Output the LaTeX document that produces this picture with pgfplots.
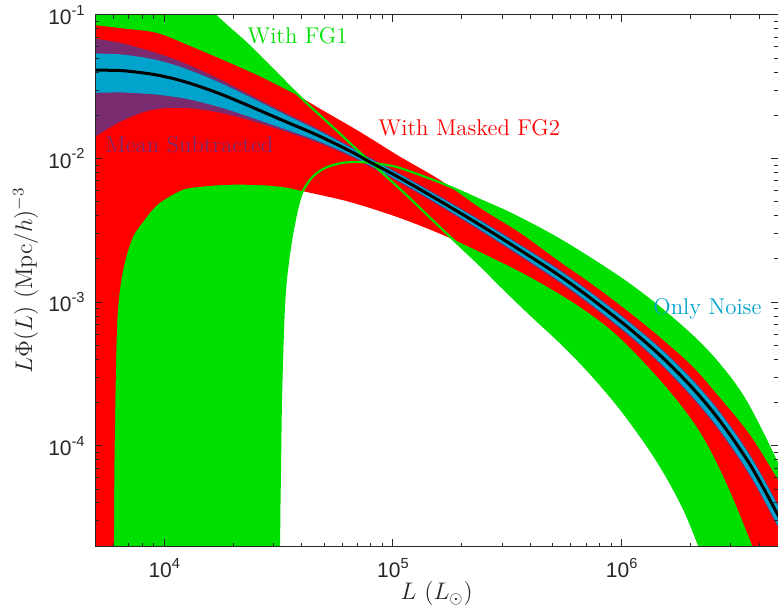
\documentclass[border=0pt]{standalone}
\usepackage{fontspec}
\usepackage{pgfplots}
\usepackage{pgfplotstable}
\pgfplotsset{compat=1.18}
\usepgfplotslibrary{fillbetween}
\newfontfamily\helv{Liberation Sans}

\definecolor{fggreen}{RGB}{0,224,0}
\definecolor{fgred}{RGB}{255,0,0}
\definecolor{mspurple}{RGB}{122,42,110}
\definecolor{ncyan}{RGB}{0,163,204}
\definecolor{axgray}{RGB}{38,38,38}

% tick label: 10 with a raised exponent
\newcommand{\tlab}[1]{\fontsize{10.5}{12}\helv 10\raisebox{4.6pt}{\fontsize{7.3}{8}\selectfont #1}}

% central curve with the "only noise" and "mean subtracted" bands
\pgfplotstableread{
x black cu cl pu pl
4900 0.04140 0.05411 0.02869 0.06889 0.01391
5789 0.04120 0.05356 0.02884 0.06592 0.01648
6598 0.04093 0.05300 0.02886 0.06344 0.01842
7829 0.03977 0.05110 0.02844 0.05886 0.02068
9292 0.03821 0.04853 0.02789 0.05426 0.02216
11137 0.03584 0.04480 0.02688 0.04910 0.02258
12954 0.03345 0.04114 0.02576 0.04449 0.02241
15372 0.03052 0.03693 0.02411 0.03937 0.02167
18056 0.02773 0.03300 0.02246 0.03480 0.02066
21429 0.02479 0.02900 0.02058 0.03024 0.01934
25428 0.02205 0.02536 0.01874 0.02624 0.01786
33037 0.01842 0.02063 0.01621 0.02118 0.01566
46526 0.01460 0.01584 0.01336 0.01621 0.01299
64863 0.01129 0.01197 0.01061 0.01219 0.01039
79330 0.009469 0.009971 0.008967 0.01015 0.008787
107300 0.007326 0.007729 0.006923 0.007861 0.006791
160500 0.005066 0.005380 0.004752 0.005471 0.004661
240200 0.003448 0.003689 0.003207 0.003751 0.003145
359200 0.002309 0.002487 0.002131 0.002531 0.002087
537300 0.001522 0.001651 0.001393 0.001682 0.001362
749100 0.001036 0.001129 0.0009428 0.001148 0.0009241
1087100 6.508e-4 7.159e-4 5.857e-4 7.276e-4 5.740e-4
1516000 4.087e-4 4.557e-4 3.617e-4 4.631e-4 3.543e-4
2050500 2.502e-4 2.827e-4 2.177e-4 2.877e-4 2.127e-4
2690000 1.489e-4 1.697e-4 1.281e-4 1.727e-4 1.251e-4
3639000 7.409e-5 8.520e-5 6.298e-5 8.669e-5 6.149e-5
4824000 3.296e-5 3.823e-5 2.769e-5 3.889e-5 2.703e-5
5445000 2.244e-5 2.614e-5 1.874e-5 2.659e-5 1.829e-5
}\bands

% "With Masked FG2": upper and lower edges
\pgfplotstableread{
x y
4900 0.0852
6598 0.08054
9292 0.07493
12954 0.06083
18056 0.04859
25428 0.03821
33037 0.03102
39210 0.02698
46526 0.02287
64863 0.01687
79330 0.01391
107300 0.01031
160500 0.007096
240200 0.004529
359200 0.003033
537300 0.001905
749100 0.001318
1087100 8.411e-4
1516000 5.454e-4
2050500 3.537e-4
2690000 2.152e-4
3639000 1.189e-4
4824000 5.778e-5
5445000 4.194e-5
}\redup

\pgfplotstableread{
x y
4900 1e-7
5996 1e-7
6026 2.038e-5
6086 1.288e-4
6211 6.402e-4
6401 1.216e-3
6732 1.905e-3
7298 2.844e-3
8070 3.618e-3
9107 4.603e-3
10275 5.316e-3
11713 5.949e-3
12954 6.243e-3
18056 6.550e-3
25428 6.550e-3
33037 6.343e-3
40000 5.949e-3
64863 4.986e-3
107300 3.857e-3
165400 2.938e-3
240200 2.236e-3
397200 1.498e-3
657200 9.26e-4
983100 5.631e-4
1578400 2.526e-4
2199700 1.248e-4
2829000 5.778e-5
3639000 2.208e-5
4824000 6.63e-6
5445000 3.784e-6
}\redlo

% "With FG1": the two edges cross near L = 8e4
\pgfplotstableread{
x y
4900 0.69
8660 0.2836
16660 0.1
23700 0.06015
39210 0.02698
55770 0.01607
79330 0.009515
107300 0.006143
131250 0.004529
165400 0.003183
240200 0.001816
293700 0.001318
397200 8.277e-4
521300 5.541e-4
657200 3.834e-4
803700 2.694e-4
983100 1.833e-4
1202300 1.189e-4
1398100 8.356e-5
1626200 5.596e-5
1891400 3.516e-5
2134500 2.208e-5
2313400 1.551e-5
2558600 9.14e-6
5445000 1e-7
}\greenA

\pgfplotstableread{
x y
4900 1e-7
31420 1e-7
31730 1.602e-5
32050 6.785e-5
32370 2.084e-4
33037 6.402e-4
33710 1.216e-3
34740 1.905e-3
36170 2.938e-3
38040 4.385e-3
40000 5.761e-3
43360 7.096e-3
46526 7.937e-3
50440 8.602e-3
55770 9.096e-3
61680 9.393e-3
68200 9.469e-3
75440 9.423e-3
83430 9.275e-3
97030 8.952e-3
107300 8.602e-3
131250 7.687e-3
160500 6.819e-3
196300 5.949e-3
240200 5.148e-3
308800 4.315e-3
397200 3.532e-3
510900 2.844e-3
657200 2.236e-3
845300 1.730e-3
1087100 1.318e-3
1471000 9.11e-4
1989000 6.006e-4
2433000 4.357e-4
2975700 2.966e-4
3461000 2.084e-4
4024000 1.330e-4
4824000 7.349e-5
5445000 4.922e-5
}\greenB

\begin{document}
\begin{tikzpicture}
\begin{axis}[
  scale only axis,
  width=341.3pt, height=265.6pt,
  xmode=log, ymode=log,
  xmin=5000, xmax=4824000, ymin=2e-5, ymax=0.1,
  set layers, axis on top,
  tick align=inside,
  xtick={1e4,1e5,1e6},
  xticklabels={\tlab{4},\tlab{5},\tlab{6}},
  minor xtick={6000,7000,8000,9000,20000,30000,40000,50000,60000,70000,80000,90000,2e5,3e5,4e5,5e5,6e5,7e5,8e5,9e5,2e6,3e6,4e6},
  ytick={1e-4,1e-3,1e-2,1e-1},
  yticklabels={\tlab{-4},\tlab{-3},\tlab{-2},\tlab{-1}},
  minor ytick={3e-5,4e-5,5e-5,6e-5,7e-5,8e-5,9e-5,2e-4,3e-4,4e-4,5e-4,6e-4,7e-4,8e-4,9e-4,2e-3,3e-3,4e-3,5e-3,6e-3,7e-3,8e-3,9e-3,2e-2,3e-2,4e-2,5e-2,6e-2,7e-2,8e-2,9e-2},
  major tick length=3.5pt, minor tick length=1.8pt,
  tick style={axgray, line width=0.5pt},
  axis line style={axgray, line width=0.5pt},
  xticklabel style={anchor=base, inner sep=0pt, yshift=-15.9pt, text=axgray},
  yticklabel style={anchor=east, inner sep=0pt, xshift=-5.2pt, text=axgray},
  xlabel={$L\ (L_\odot)$},
  ylabel={$L\Phi(L)\ (\mathrm{Mpc}/h)^{-3}$},
  xlabel style={at={(axis description cs:0.5,-0.1013)}, anchor=base, inner sep=0pt, font=\fontsize{12}{14}\selectfont, text=axgray},
  ylabel style={at={(axis description cs:-0.0926,0.5)}, anchor=base, inner sep=0pt, font=\fontsize{12}{14}\selectfont, text=axgray},
  every axis plot/.append style={smooth, tension=0.55},
]
\coordinate (SW) at (rel axis cs:0,0);
\coordinate (NE) at (rel axis cs:1,1);

% band edges
\addplot[draw=none, name path=gA] table[x=x,y=y] {\greenA};
\addplot[draw=none, name path=gB] table[x=x,y=y] {\greenB};
\addplot[draw=none, name path=rU] table[x=x,y=y] {\redup};
\addplot[draw=none, name path=rL] table[x=x,y=y] {\redlo};
\addplot[draw=none, name path=pU] table[x=x,y=pu] {\bands};
\addplot[draw=none, name path=pL] table[x=x,y=pl] {\bands};
\addplot[draw=none, name path=cU] table[x=x,y=cu] {\bands};
\addplot[draw=none, name path=cL] table[x=x,y=cl] {\bands};

% filled bands, widest first
\addplot[fggreen] fill between[of=gA and gB];
\addplot[fgred] fill between[of=rU and rL];
\addplot[mspurple] fill between[of=pU and pL];
\addplot[ncyan] fill between[of=cU and cL];

% FG1 edges and the central curve
\addplot[fggreen, line width=1.1pt, line join=round] table[x=x,y=y] {\greenA};
\addplot[fggreen, line width=1.1pt, line join=round] table[x=x,y=y] {\greenB};
\addplot[black, line width=1.5pt, line join=round] table[x=x,y=black] {\bands};

\node[anchor=base west, inner sep=0pt, text=fggreen, font=\fontsize{11.4}{13}\selectfont] at (axis cs:22990,0.0638) {With FG1};
\node[anchor=base west, inner sep=0pt, text=fgred, font=\fontsize{11.4}{13}\selectfont] at (axis cs:86000,0.01437) {With Masked FG2};
\node[anchor=base west, inner sep=0pt, text=mspurple, font=\fontsize{11.4}{13}\selectfont] at (axis cs:5505,0.01094) {Mean Subtracted};
\node[anchor=base west, inner sep=0pt, text=ncyan, font=\fontsize{11.4}{13}\selectfont] at (axis cs:1371000,8.15e-4) {Only Noise};
\end{axis}
\pgfresetboundingbox
\path ([shift={(-47.7pt,-34.9pt)}]SW) rectangle ([shift={(0pt,7.5pt)}]NE);
\end{tikzpicture}
\end{document}
